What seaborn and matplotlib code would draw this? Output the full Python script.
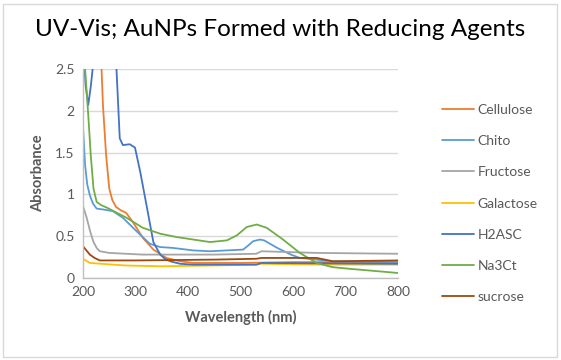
import pandas as pd
import matplotlib
matplotlib.use("Agg")
import matplotlib.pyplot as plt
import seaborn as sns
from matplotlib.patches import Rectangle

# UV-Vis spectra (wavelength nm, absorbance)
cellulose_wl = [200, 215, 225, 235, 238, 244, 250, 256, 263, 272, 282, 295, 314, 334, 359, 385, 410, 500, 600, 700, 800]
cellulose_abs = [3.5, 3.2, 2.9, 2.55, 2.07, 1.47, 1.07, 0.93, 0.85, 0.81, 0.78, 0.67, 0.48, 0.34, 0.24, 0.20, 0.18, 0.18, 0.19, 0.19, 0.18]

chito_wl = [200, 204, 208, 213, 219, 226, 238, 257, 276, 302, 327, 347, 371, 410, 442, 505, 515, 524, 537, 545, 570, 596, 613, 676, 800]
chito_abs = [1.81, 1.35, 1.12, 0.99, 0.89, 0.83, 0.82, 0.80, 0.72, 0.56, 0.41, 0.37, 0.36, 0.33, 0.32, 0.34, 0.39, 0.44, 0.46, 0.45, 0.36, 0.28, 0.24, 0.20, 0.19]

fructose_wl = [200, 207, 214, 220, 226, 232, 250, 314, 378, 450, 530, 540, 645, 800]
fructose_abs = [0.86, 0.72, 0.55, 0.43, 0.36, 0.32, 0.30, 0.28, 0.28, 0.28, 0.29, 0.32, 0.30, 0.29]

galactose_wl = [200, 213, 280, 350, 450, 530, 540, 650, 800]
galactose_abs = [0.23, 0.18, 0.15, 0.14, 0.15, 0.16, 0.17, 0.16, 0.16]

h2asc_wl = [200, 205, 210, 215, 220, 240, 263, 267, 270, 276, 289, 299, 309, 321, 334, 347, 356, 366, 385, 410, 530, 540, 800]
h2asc_abs = [2.8, 2.3, 2.07, 2.3, 2.6, 3.0, 2.6, 2.07, 1.67, 1.59, 1.60, 1.56, 1.27, 0.87, 0.43, 0.28, 0.23, 0.20, 0.17, 0.16, 0.16, 0.18, 0.17]

na3ct_wl = [200, 204, 210, 215, 220, 226, 235, 246, 283, 314, 347, 378, 442, 474, 493, 512, 531, 550, 581, 613, 645, 675, 708, 800]
na3ct_abs = [3.0, 2.5, 1.95, 1.45, 1.07, 0.91, 0.87, 0.84, 0.72, 0.60, 0.53, 0.49, 0.43, 0.45, 0.51, 0.61, 0.64, 0.60, 0.46, 0.30, 0.18, 0.13, 0.11, 0.06]

sucrose_wl = [200, 213, 222, 232, 300, 450, 530, 540, 645, 676, 800]
sucrose_abs = [0.38, 0.28, 0.24, 0.21, 0.21, 0.22, 0.23, 0.24, 0.24, 0.20, 0.21]

names = ['Cellulose', 'Chito', 'Fructose', 'Galactose', 'H2ASC', 'Na3Ct', 'sucrose']
colors = ['#ED7D31', '#5B9BD5', '#A5A5A5', '#FFC000', '#4472C4', '#70AD47', '#9E480E']
series = [(cellulose_wl, cellulose_abs), (chito_wl, chito_abs), (fructose_wl, fructose_abs),
          (galactose_wl, galactose_abs), (h2asc_wl, h2asc_abs), (na3ct_wl, na3ct_abs),
          (sucrose_wl, sucrose_abs)]

frames = []
for name, (wl, ab) in zip(names, series):
    frames.append(pd.DataFrame({'wavelength': wl, 'absorbance': ab, 'agent': name}))
df = pd.concat(frames, ignore_index=True)

sns.set_style('white')
plt.rcParams['font.family'] = ['Lato', 'DejaVu Sans']

fig = plt.figure(figsize=(5.61, 3.6), dpi=100)
ax = fig.add_axes([83/561, 1 - 278/360, 315/561, 209/360])

sns.lineplot(data=df, x='wavelength', y='absorbance', hue='agent', hue_order=names,
             palette=dict(zip(names, colors)), estimator=None, sort=True,
             linewidth=1.3, ax=ax)

ax.set_xlim(200, 800)
ax.set_ylim(0, 2.5)
ax.set_xticks([200, 300, 400, 500, 600, 700, 800])
ax.set_yticks([0, 0.5, 1, 1.5, 2, 2.5])
ax.set_yticklabels(['0', '0.5', '1', '1.5', '2', '2.5'])
ax.tick_params(length=0, labelsize=10, labelcolor='#595959', pad=6)
ax.yaxis.grid(True, color='#D9D9D9', linewidth=1)
ax.set_axisbelow(True)
for s in ['top', 'right']:
    ax.spines[s].set_visible(False)
for s in ['left', 'bottom']:
    ax.spines[s].set_color('#BFBFBF')
    ax.spines[s].set_linewidth(1)

ax.set_xlabel('Wavelength (nm)', fontsize=10.5, fontweight='bold', color='#595959', labelpad=8)
ax.set_ylabel('Absorbance', fontsize=10.5, fontweight='bold', color='#595959', labelpad=7)

fig.suptitle('UV-Vis; AuNPs Formed with Reducing Agents', x=0.5, y=1 - 29/360,
             va='center', fontsize=17.5, color='#000000')

ax.legend(loc='upper left', bbox_to_anchor=(442/561, 1 - 104/360), bbox_transform=fig.transFigure,
          frameon=False, fontsize=10, handlelength=2.3, handletextpad=0.25,
          labelspacing=1.38, borderpad=0, borderaxespad=0, labelcolor='#595959')

fig.patches.append(Rectangle((3/561, 3/360), 554/561, 353/360, transform=fig.transFigure,
                             fill=False, edgecolor='#D9D9D9', linewidth=1))

fig.savefig('out.png', dpi=100)
